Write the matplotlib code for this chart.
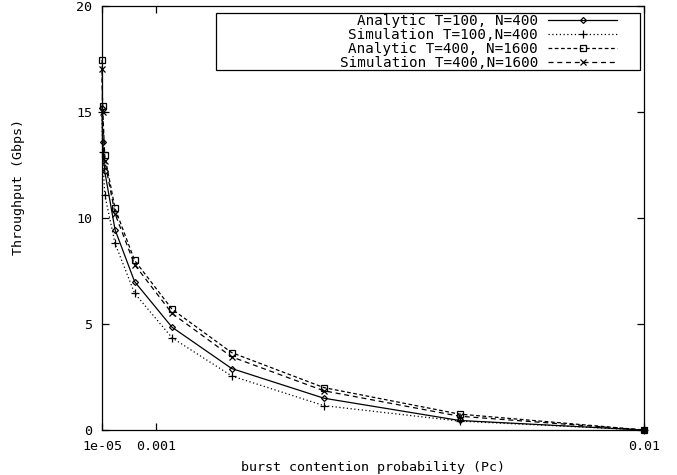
import matplotlib
matplotlib.use("Agg")
import matplotlib.pyplot as plt
from matplotlib.patches import Rectangle

# burst contention probability (x) and throughput in Gbps (y)
pc = [1e-5, 2e-5, 6e-5, 2.5e-4, 6.1e-4, 1.3e-3, 2.4e-3, 4.1e-3, 6.6e-3, 1e-2]

analytic_100 = [15.2, 13.6, 12.2, 9.45, 7.0, 4.85, 2.9, 1.5, 0.45, 0.0]
sim_100 = [15.0, 13.1, 11.1, 8.8, 6.45, 4.35, 2.55, 1.15, 0.42, 0.0]
analytic_400 = [17.45, 15.3, 12.95, 10.45, 8.0, 5.7, 3.65, 2.0, 0.75, 0.0]
sim_400 = [17.05, 15.0, 12.7, 10.2, 7.8, 5.5, 3.45, 1.85, 0.65, 0.0]

labels = ["Analytic T=100, N=400", "Simulation T=100,N=400",
          "Analytic T=400, N=1600", "Simulation T=400,N=1600"]

xticks = [1e-5, 1e-3, 1e-2]
xticklabels = ["1e-05", "0.001", "0.01"]
yticks = [0, 5, 10, 15, 20]

plt.rcParams["font.family"] = "DejaVu Sans Mono"
plt.rcParams["font.size"] = 9.6

fig = plt.figure(figsize=(6.77, 4.75), dpi=100)
ax = fig.add_axes([0.1507, 0.0947, 0.8006, 0.8927])

common = dict(color="black", linewidth=0.9, clip_on=False, mfc="none", mew=0.9)
ax.plot(pc, analytic_100, linestyle="-", marker="D", markersize=3, label=labels[0], **common)
ax.plot(pc, sim_100, linestyle=(0, (1, 2)), marker="+", markersize=6, label=labels[1], **common)
ax.plot(pc, analytic_400, linestyle=(0, (3, 2)), marker="s", markersize=5, label=labels[2], **common)
ax.plot(pc, sim_400, linestyle=(0, (4, 3)), marker="x", markersize=4.5, label=labels[3], **common)

ax.set_xlim(1e-5, 1e-2)
ax.set_ylim(0, 20)
ax.set_xticks(xticks)
ax.set_xticklabels(xticklabels)
ax.set_yticks(yticks)
ax.tick_params(direction="in", length=5, width=0.9, top=True, right=True, pad=7)
for s in ax.spines.values():
    s.set_linewidth(0.9)

ax.set_xlabel("burst contention probability (Pc)")
ax.xaxis.set_label_coords(0.5, -0.072)
ax.set_ylabel("Throughput (Gbps)")
ax.yaxis.set_label_coords(-0.142, 0.573)

# key box (gnuplot style: wide frame, labels right-aligned before samples)
ax.add_patch(Rectangle((0.2103, 0.849), 0.7823, 0.1345, transform=ax.transAxes,
                       facecolor="white", edgecolor="black", linewidth=0.9,
                       zorder=4, clip_on=False))
leg = ax.legend(loc="upper right", bbox_to_anchor=(0.950, 0.981), markerfirst=False,
                handlelength=4.8, handletextpad=0.7, labelspacing=0.0,
                borderpad=0.0, borderaxespad=0.0, frameon=False, fontsize=10.3)
leg.set_zorder(5)

fig.savefig("out.png", dpi=100)
